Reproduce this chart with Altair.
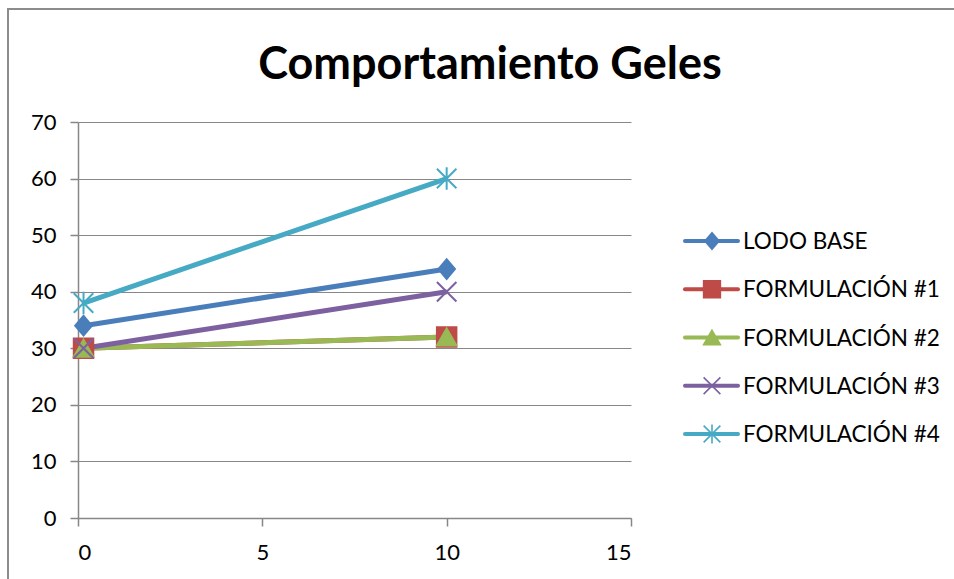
import altair as alt
import pandas as pd

# Series data: gel strength at two times
series = ["LODO BASE", "FORMULACIÓN #1", "FORMULACIÓN #2", "FORMULACIÓN #3", "FORMULACIÓN #4"]
times = [0.15, 10]
lodo_base = [34, 44]
form_1 = [30, 32]
form_2 = [30, 32]
form_3 = [30, 40]
form_4 = [38, 60]
title_text = "Comportamiento Geles"

colors = ["#4A7EBB", "#BE4B48", "#98B954", "#7D60A0", "#46AAC5"]
diamond = "M-0.85,0L0,-1L0.85,0L0,1Z"
x_mark = "M-1,-1L1,1M1,-1L-1,1"
asterisk = "M-1,-1L1,1M1,-1L-1,1M0,-1.15L0,1.15"
shapes = [diamond, "square", "triangle-up", x_mark, asterisk]

values = [lodo_base, form_1, form_2, form_3, form_4]
rows = []
for order, (name, vals) in enumerate(zip(series, values)):
    for t, v in zip(times, vals):
        rows.append({"serie": name, "tiempo": t, "valor": v, "orden": order})
df = pd.DataFrame(rows)

FONT = "Lato"
GRAY = "#878787"

color_scale = alt.Scale(domain=series, range=colors)
shape_scale = alt.Scale(domain=series, range=shapes)

x_enc = alt.X("tiempo:Q", scale=alt.Scale(domain=[0, 15], nice=False),
              axis=alt.Axis(values=[0, 5, 10, 15], grid=False, title=None))
y_enc = alt.Y("valor:Q", scale=alt.Scale(domain=[0, 70], nice=False),
              axis=alt.Axis(values=list(range(0, 71, 10)), grid=True, title=None))

base = alt.Chart(df)

lines = base.mark_line(strokeWidth=5).encode(
    x=x_enc, y=y_enc,
    color=alt.Color("serie:N", scale=color_scale, legend=None),
    detail="serie:N",
    order="orden:Q",
)

points = base.mark_point(filled=True, strokeWidth=2, opacity=1).encode(
    x=x_enc, y=y_enc,
    fill=alt.Fill("serie:N", scale=color_scale, legend=None),
    stroke=alt.Stroke("serie:N", scale=color_scale, legend=None),
    shape=alt.Shape("serie:N", scale=shape_scale, legend=None),
    size=alt.value(380),
)

plot = alt.layer(lines, points)

# Hand-built legend on the right
leg_df = pd.DataFrame({"serie": series})
leg_y = alt.Y("serie:N", scale=alt.Scale(type="point", domain=series, range=[119, 312], padding=0), axis=None)
leg_base = alt.Chart(leg_df)
leg_lines = leg_base.mark_rule(strokeWidth=4, strokeCap="round").encode(
    x=alt.value(607), x2=alt.value(660), y=leg_y,
    color=alt.Color("serie:N", scale=color_scale, legend=None),
)
leg_points = leg_base.mark_point(filled=True, strokeWidth=1.6, opacity=1).encode(
    x=alt.value(634), y=leg_y,
    fill=alt.Fill("serie:N", scale=color_scale, legend=None),
    stroke=alt.Stroke("serie:N", scale=color_scale, legend=None),
    shape=alt.Shape("serie:N", scale=shape_scale, legend=None),
    size=alt.value(280),
)
leg_text = leg_base.mark_text(align="left", baseline="middle", font=FONT, fontSize=22.5, color="#000000", dy=1).encode(
    x=alt.value(665), y=leg_y, text="serie:N",
)
legend = alt.layer(leg_lines, leg_points, leg_text)

# Chart title and outer border (left and top edges visible)
single = pd.DataFrame({"titulo": [title_text]})
title = alt.Chart(single).mark_text(
    font=FONT, fontSize=45, fontWeight="bold", color="#000000",
    align="center", baseline="alphabetic",
).encode(x=alt.value(412), y=alt.value(-43), text="titulo:N")
frame_left = alt.Chart(single).mark_rule(color="#8c8c8c", strokeWidth=2).encode(
    x=alt.value(-70), y=alt.value(-113), y2=alt.value(480),
)
frame_top = alt.Chart(single).mark_rule(color="#8c8c8c", strokeWidth=2).encode(
    x=alt.value(-71), x2=alt.value(900), y=alt.value(-113),
)

chart = alt.layer(
    plot, legend, title, frame_left, frame_top
).resolve_scale(y="independent").properties(
    width=553,
    height=396,
    background="white",
    autosize=alt.AutoSizeParams(type="none"),
    padding={"left": 78, "top": 122, "right": 323, "bottom": 61},
).configure_view(stroke=None).configure_axis(
    domainColor=GRAY, tickColor=GRAY, gridColor=GRAY, gridWidth=1,
    domainWidth=1.5, tickWidth=1.5, tickSize=8,
    labelFont=FONT, labelFontSize=22, labelColor="#000000",
).configure_axisY(labelPadding=14).configure_axisX(labelPadding=16)

chart.save("out.html", embed_options={"renderer": "svg", "actions": False})
